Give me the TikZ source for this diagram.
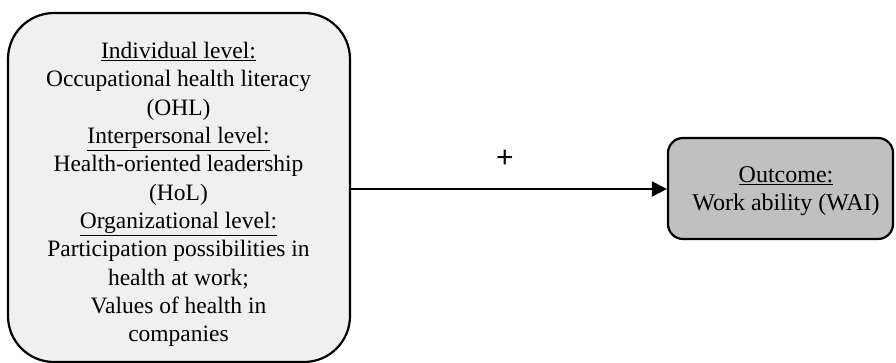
\documentclass[tikz,border=0pt]{standalone}
\usepackage{fontspec}
\setmainfont{Liberation Serif}
\newfontfamily\plusfont{Liberation Sans}
\usetikzlibrary{arrows.meta}
\definecolor{lightbox}{HTML}{F0F0F0}
\definecolor{darkbox}{HTML}{C0C0C0}
\tikzset{
  boxline/.style={draw=black, line width=2.2pt},
  txt/.style={align=center, font=\fontsize{23.5}{28.3}\selectfont, inner sep=0pt},
  conn/.style={line width=2pt, -{Triangle[length=15pt,width=15pt]}}
}
\begin{document}
\begin{tikzpicture}[x=1pt,y=1pt]
\useasboundingbox (0,0) rectangle (896,363);
\node[boxline, fill=lightbox, rounded corners=46pt, minimum width=342pt, minimum height=349pt, inner sep=0pt] (left) at (179,175.5) {};
\node[boxline, fill=darkbox, rounded corners=15pt, minimum width=225pt, minimum height=101pt, inner sep=0pt] (right) at (780.5,174.5) {};
\node[txt] (ltext) at (178.5,168.5) {\underline{Individual level:}\\
Occupational health literacy\\
(OHL)\\
\underline{Interpersonal level:}\\
Health-oriented leadership\\
(HoL)\\
\underline{Organizational level:}\\
Participation possibilities in\\
health at work;\\
Values of health in\\
companies};
\node[txt, font=\fontsize{24}{28.3}\selectfont] (rtext) at (786,172) {\underline{Outcome:}\\Work ability (WAI)};
\draw[conn] (left.east |- 0,174) -- (right.west |- 0,174);
\node[font=\plusfont\fontsize{30}{34}\selectfont, inner sep=0pt] (plus) at (505,204) {+};
\end{tikzpicture}
\end{document}
